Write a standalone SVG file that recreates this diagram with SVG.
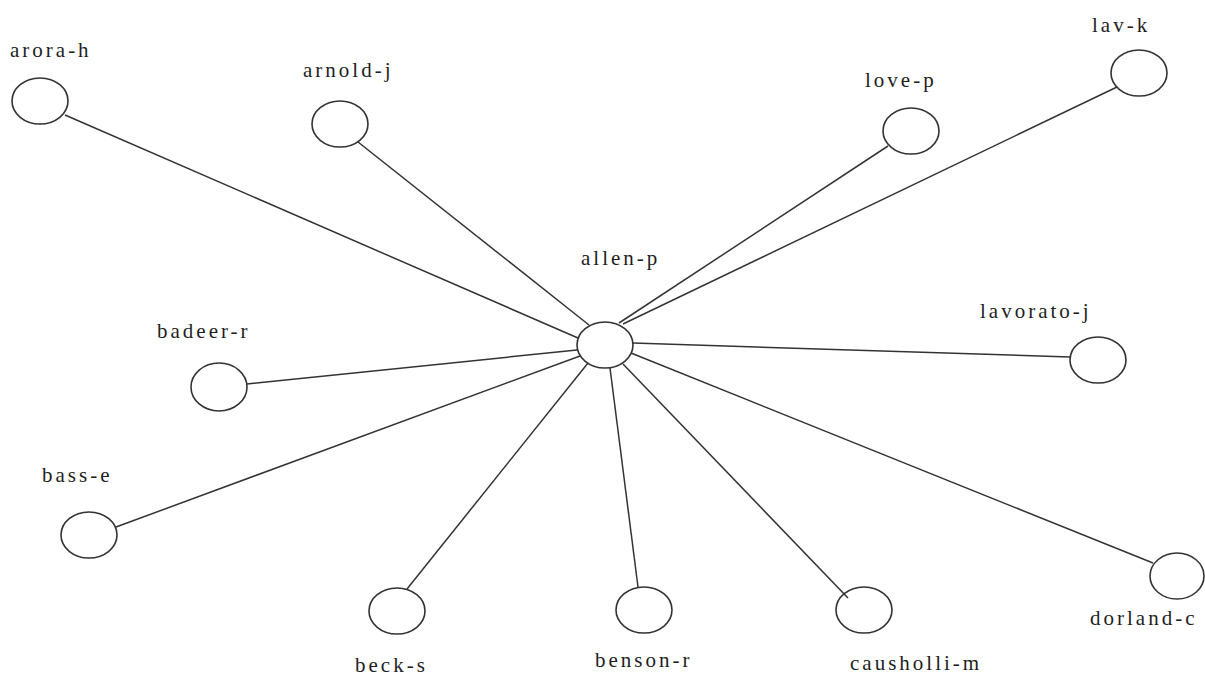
<svg xmlns="http://www.w3.org/2000/svg" width="1205" height="677" viewBox="0 0 1205 677">
  <style>
    .node ellipse { fill: #ffffff; stroke: #333333; stroke-width: 1.6; }
    .node text { font-family: "Liberation Serif", "Times New Roman", serif; font-size: 21px; letter-spacing: 3px; fill: #1e1e1e; }
    #edges line { stroke: #333333; stroke-width: 1.5; }
  </style>
  <rect width="1205" height="677" fill="#ffffff"/>

  <!-- nodes -->
  <g id="allen-p" class="node">
    <ellipse cx="605" cy="345" rx="28" ry="23"/>
    <text x="581" y="265">allen-p</text>
  </g>
  <g id="arora-h" class="node">
    <ellipse cx="40" cy="101" rx="28" ry="23"/>
    <text x="10" y="57">arora-h</text>
  </g>
  <g id="arnold-j" class="node">
    <ellipse cx="340" cy="124" rx="28" ry="23"/>
    <text x="303" y="77">arnold-j</text>
  </g>
  <g id="love-p" class="node">
    <ellipse cx="911" cy="131" rx="28" ry="23"/>
    <text x="865" y="87">love-p</text>
  </g>
  <g id="lav-k" class="node">
    <ellipse cx="1139" cy="73" rx="28" ry="23"/>
    <text x="1092" y="32">lav-k</text>
  </g>
  <g id="lavorato-j" class="node">
    <ellipse cx="1098" cy="360" rx="28" ry="23"/>
    <text x="980" y="318">lavorato-j</text>
  </g>
  <g id="badeer-r" class="node">
    <ellipse cx="219" cy="387" rx="28" ry="24"/>
    <text x="157" y="338">badeer-r</text>
  </g>
  <g id="bass-e" class="node">
    <ellipse cx="89" cy="535" rx="28" ry="23"/>
    <text x="42" y="482">bass-e</text>
  </g>
  <g id="beck-s" class="node">
    <ellipse cx="397" cy="611" rx="28" ry="23"/>
    <text x="355" y="672">beck-s</text>
  </g>
  <g id="benson-r" class="node">
    <ellipse cx="644" cy="610" rx="28" ry="23"/>
    <text x="595" y="667">benson-r</text>
  </g>
  <g id="causholli-m" class="node">
    <ellipse cx="864" cy="610" rx="28" ry="23"/>
    <text x="850" y="670">causholli-m</text>
  </g>
  <g id="dorland-c" class="node">
    <ellipse cx="1177" cy="576" rx="27" ry="23"/>
    <text x="1090" y="625">dorland-c</text>
  </g>

  <!-- connectors -->
  <g id="edges">
    <line x1="65" y1="115" x2="578" y2="338"/>
    <line x1="358" y1="142" x2="589" y2="325"/>
    <line x1="888" y1="146" x2="619" y2="323"/>
    <line x1="1117" y1="87" x2="623" y2="324"/>
    <line x1="1070" y1="357" x2="633" y2="343"/>
    <line x1="247" y1="384" x2="577" y2="350"/>
    <line x1="116" y1="527" x2="580" y2="356"/>
    <line x1="407" y1="589" x2="588" y2="363"/>
    <line x1="638" y1="587" x2="610" y2="368"/>
    <line x1="848" y1="598" x2="623" y2="364"/>
    <line x1="1153" y1="563" x2="631" y2="353"/>
  </g>
</svg>
